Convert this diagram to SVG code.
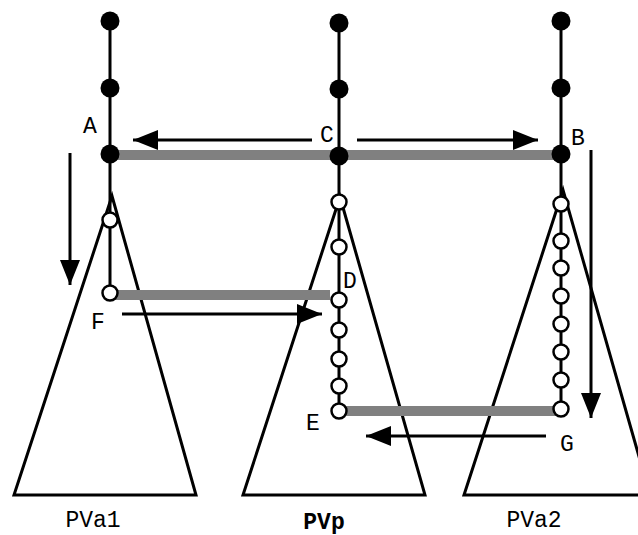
<svg xmlns="http://www.w3.org/2000/svg" width="638" height="535" viewBox="0 0 638 535">
<style>
.tri{fill:none;stroke:#000;stroke-width:3}
.col{stroke:#000;stroke-width:3}
.bar{stroke:#808080;stroke-width:10}
.arr{stroke:#000;stroke-width:3;fill:none;marker-end:url(#ah)}
.dot{fill:#000}
.open{fill:#fff;stroke:#000;stroke-width:2.5}
.lbl{font-family:"Liberation Mono","Courier New",monospace;font-size:23px;fill:#000;text-anchor:middle}
.bold{font-weight:bold}
</style>
<defs>
<marker id="ah" markerUnits="userSpaceOnUse" markerWidth="26" markerHeight="22" refX="25" refY="11" orient="auto">
<path d="M0,1 L25,11 L0,21 Z" fill="#000"/>
</marker>
</defs>
<g id="PVa1">
<polygon class="tri" points="112,196 14,495 196,495"/>
<text class="lbl" x="93" y="527">PVa1</text>
</g>
<g id="PVp">
<polygon class="tri" points="340,197 243,495 425,495"/>
<text class="lbl bold" x="324" y="529">PVp</text>
</g>
<g id="PVa2">
<polygon class="tri" points="563,190 464,495 650,495"/>
<text class="lbl" x="534" y="527">PVa2</text>
</g>
<g id="connectors">
<line class="bar" x1="110" y1="155" x2="556" y2="155"/>
<line class="bar" x1="110" y1="295" x2="330" y2="295"/>
<line class="bar" x1="339" y1="411" x2="560" y2="411"/>
<line class="arr" x1="312" y1="140" x2="133" y2="140"/>
<line class="arr" x1="357" y1="140" x2="538" y2="140"/>
<line class="arr" x1="70" y1="153" x2="70" y2="285"/>
<line class="arr" x1="591" y1="150" x2="591" y2="418"/>
<line class="arr" x1="122" y1="314" x2="322" y2="314"/>
<line class="arr" x1="546" y1="436" x2="366" y2="436"/>
</g>
<g id="chainA">
<line class="col" x1="110" y1="21" x2="110" y2="293"/>
<circle class="dot" cx="110" cy="21" r="9.5"/>
<circle class="dot" cx="110" cy="88" r="9.5"/>
<circle class="open" cx="110" cy="220" r="7.5"/>
<circle class="open" cx="110" cy="293" r="7.5"/>
</g>
<g id="chainC">
<line class="col" x1="339" y1="23" x2="339" y2="411"/>
<circle class="dot" cx="339" cy="23" r="9.5"/>
<circle class="dot" cx="339" cy="89" r="9.5"/>
<circle class="open" cx="339" cy="202" r="7.5"/>
<circle class="open" cx="339" cy="247" r="7.5"/>
<circle class="open" cx="339" cy="330" r="7.5"/>
<circle class="open" cx="339" cy="359" r="7.5"/>
<circle class="open" cx="339" cy="386" r="7.5"/>
</g>
<g id="chainB">
<line class="col" x1="561" y1="21" x2="561" y2="409"/>
<circle class="dot" cx="561" cy="21" r="9.5"/>
<circle class="dot" cx="561" cy="88" r="9.5"/>
<circle class="open" cx="561" cy="204" r="7.5"/>
<circle class="open" cx="561" cy="241" r="7.5"/>
<circle class="open" cx="561" cy="268" r="7.5"/>
<circle class="open" cx="561" cy="296" r="7.5"/>
<circle class="open" cx="561" cy="324" r="7.5"/>
<circle class="open" cx="561" cy="352" r="7.5"/>
<circle class="open" cx="561" cy="380" r="7.5"/>
</g>
<g id="A"><circle class="dot" cx="110" cy="154" r="9.5"/><text class="lbl" x="90" y="133">A</text></g>
<g id="C"><circle class="dot" cx="339" cy="156" r="9.5"/><text class="lbl" x="327" y="142">C</text></g>
<g id="B"><circle class="dot" cx="561" cy="154" r="9.5"/><text class="lbl" x="578" y="145">B</text></g>
<g id="F"><text class="lbl" x="98" y="329">F</text></g>
<g id="D"><circle class="open" cx="339" cy="300" r="7.5"/><text class="lbl" x="350" y="288">D</text></g>
<g id="E"><circle class="open" cx="339" cy="411" r="7.5"/><text class="lbl" x="313" y="430">E</text></g>
<g id="G"><circle class="open" cx="561" cy="409" r="7.5"/><text class="lbl" x="567" y="451">G</text></g>
</svg>
